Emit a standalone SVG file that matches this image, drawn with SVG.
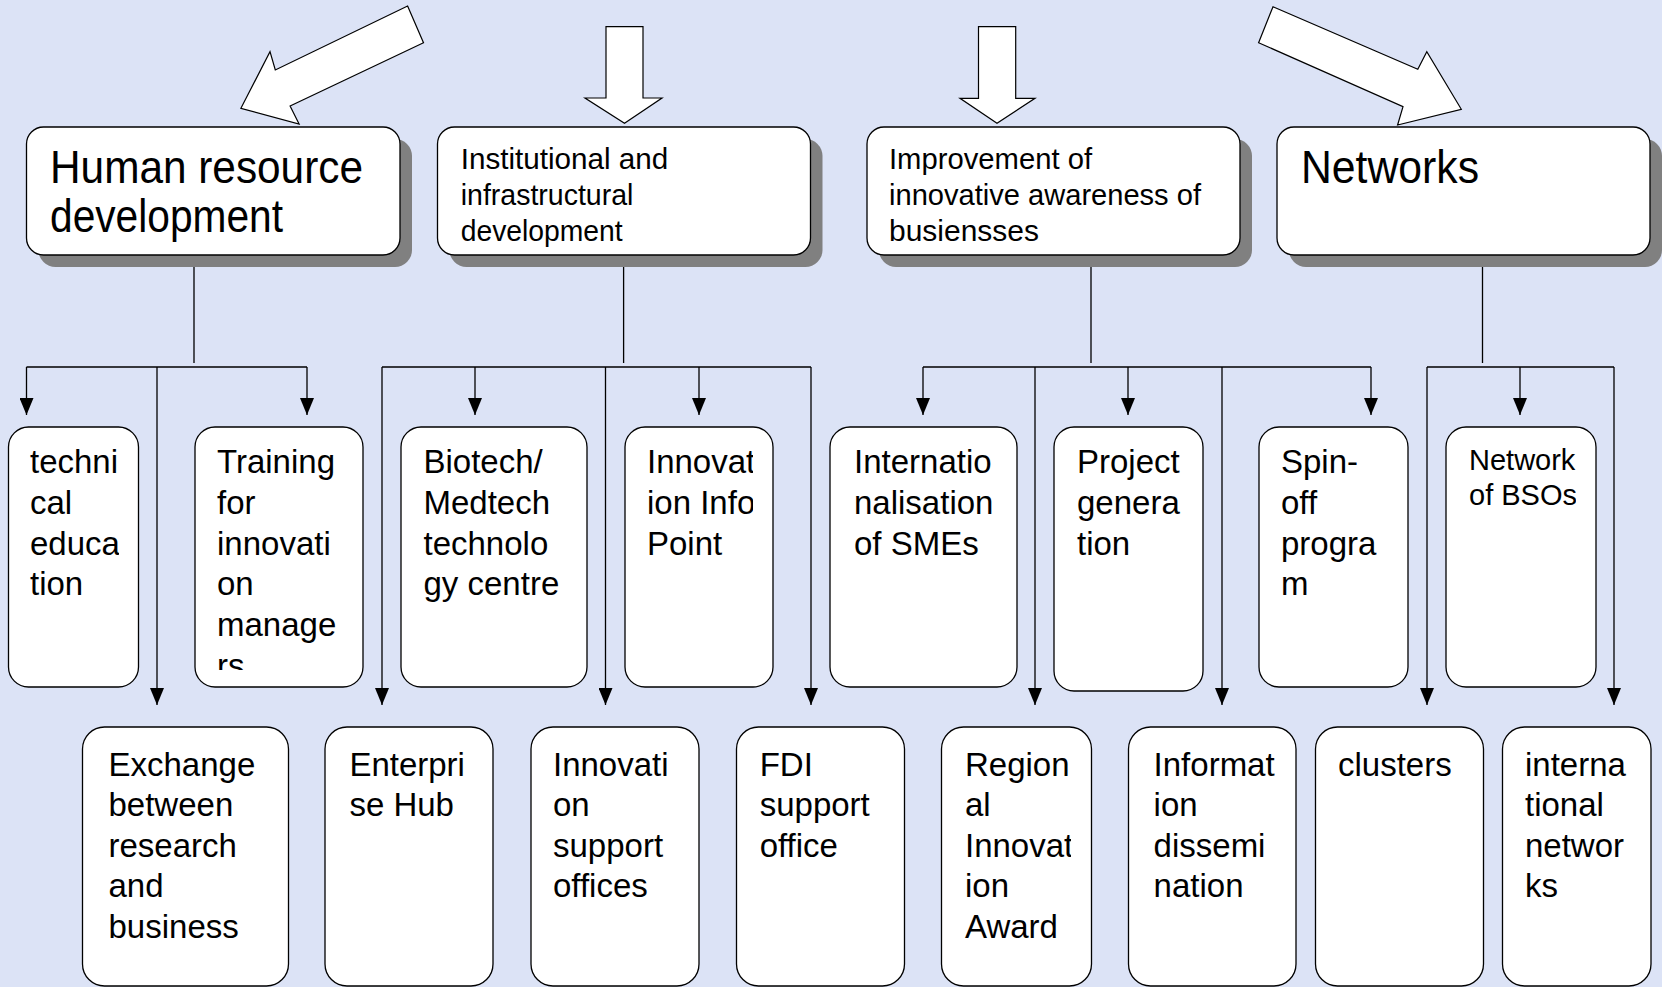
<svg xmlns="http://www.w3.org/2000/svg" width="1662" height="987" viewBox="0 0 1662 987">
<defs>
<style>
.bg{fill:#dce3f6}
.box{fill:#fff;stroke:#000;stroke-width:1.3}
.sh{fill:#808080}
.big{fill:#fff;stroke:#000;stroke-width:1.2}
.ln{fill:none;stroke:#000;stroke-width:1.3}
.arr{fill:none;stroke:#000;stroke-width:1.3;marker-end:url(#ah)}
text{font-family:"Liberation Sans",Arial,sans-serif;fill:#000}
.t46{font-size:46px}
.t30{font-size:30px}
.t33{font-size:33px}
.t29{font-size:29px}
</style>
<marker id="ah" markerUnits="userSpaceOnUse" markerWidth="18" markerHeight="14" refX="17" refY="7" orient="auto" viewBox="0 0 18 14"><path d="M0,0 L17,7 L0,14 z" fill="#000"/></marker>
<clipPath id="c1"><rect x="8" y="427" width="111" height="243"/></clipPath>
<clipPath id="c2"><rect x="195" y="427" width="148" height="243"/></clipPath>
<clipPath id="c3"><rect x="401" y="427" width="166" height="243"/></clipPath>
<clipPath id="c4"><rect x="625" y="427" width="128" height="243"/></clipPath>
<clipPath id="c5"><rect x="830" y="427" width="167" height="243"/></clipPath>
<clipPath id="c6"><rect x="1054" y="427" width="129" height="247"/></clipPath>
<clipPath id="c7"><rect x="1259" y="427" width="129" height="243"/></clipPath>
<clipPath id="c8"><rect x="1446" y="427" width="130" height="243"/></clipPath>
<clipPath id="d1"><rect x="82" y="727" width="186" height="245"/></clipPath>
<clipPath id="d2"><rect x="325" y="727" width="148" height="245"/></clipPath>
<clipPath id="d3"><rect x="531" y="727" width="148" height="245"/></clipPath>
<clipPath id="d4"><rect x="736" y="727" width="148" height="245"/></clipPath>
<clipPath id="d5"><rect x="941" y="727" width="130" height="245"/></clipPath>
<clipPath id="d6"><rect x="1128" y="727" width="148" height="245"/></clipPath>
<clipPath id="d7"><rect x="1315" y="727" width="148" height="245"/></clipPath>
<clipPath id="d8"><rect x="1502" y="727" width="129" height="245"/></clipPath>
</defs>
<rect class="bg" x="0" y="0" width="1662" height="987"/>

<g id="big-arrows">
<polygon class="big" points="407.6,6 423.5,42.7 290.1,106 299.1,124 240.9,108.3 270,51.7 275.3,70"/>
<polygon class="big" points="606,26.7 643,26.7 643,98 662,98 624.5,123.3 585,98 606,98"/>
<polygon class="big" points="978.5,26.7 1015.7,26.7 1015.7,98.3 1035,98.3 997,123.3 960,98.3 978.5,98.3"/>
<polygon class="big" points="1273,6.7 1417.8,69.3 1426.8,51.7 1461.3,109.3 1397.6,125 1403,106.7 1258.6,42.7"/>
</g>

<g id="connectors">
<path class="ln" d="M194,267V363 M26.5,367H307 M623.6,267V363 M382,367H811 M1091,267V363 M923,367H1371 M1482.5,267V363 M1427,367H1614"/>
<path class="arr" d="M26.5,367V415"/>
<path class="arr" d="M157,367V705"/>
<path class="arr" d="M307,367V415"/>
<path class="arr" d="M382,367V705"/>
<path class="arr" d="M475,367V415"/>
<path class="arr" d="M605.5,367V705"/>
<path class="arr" d="M699,367V415"/>
<path class="arr" d="M811,367V705"/>
<path class="arr" d="M923,367V415"/>
<path class="arr" d="M1035,367V705"/>
<path class="arr" d="M1128,367V415"/>
<path class="arr" d="M1222,367V705"/>
<path class="arr" d="M1371,367V415"/>
<path class="arr" d="M1427,367V705"/>
<path class="arr" d="M1520,367V415"/>
<path class="arr" d="M1614,367V705"/>
</g>

<g id="n-hr">
<rect class="sh" x="38.5" y="139" width="373.5" height="128" rx="17"/>
<rect class="box" x="26.5" y="127" width="373.5" height="128" rx="17"/>
<text class="t46"><tspan x="50" y="183" textLength="313" lengthAdjust="spacingAndGlyphs">Human resource</tspan><tspan x="50" y="232" textLength="233" lengthAdjust="spacingAndGlyphs">development</tspan></text>
</g>
<g id="n-inst">
<rect class="sh" x="449.5" y="139" width="373" height="128" rx="17"/>
<rect class="box" x="437.5" y="127" width="373" height="128" rx="17"/>
<text class="t30"><tspan x="460.7" y="169" textLength="207.6" lengthAdjust="spacingAndGlyphs">Institutional and</tspan><tspan x="460.7" y="205" textLength="172.7" lengthAdjust="spacingAndGlyphs">infrastructural</tspan><tspan x="460.7" y="241" textLength="162" lengthAdjust="spacingAndGlyphs">development</tspan></text>
</g>
<g id="n-impr">
<rect class="sh" x="879" y="139" width="373" height="128" rx="17"/>
<rect class="box" x="867" y="127" width="373" height="128" rx="17"/>
<text class="t30"><tspan x="889" y="169" textLength="203" lengthAdjust="spacingAndGlyphs">Improvement of</tspan><tspan x="889" y="205" textLength="312" lengthAdjust="spacingAndGlyphs">innovative awareness of</tspan><tspan x="889" y="241" textLength="150" lengthAdjust="spacingAndGlyphs">busiensses</tspan></text>
</g>
<g id="n-net">
<rect class="sh" x="1289" y="139" width="373" height="128" rx="17"/>
<rect class="box" x="1277" y="127" width="373" height="128" rx="17"/>
<text class="t46"><tspan x="1301" y="183" textLength="178" lengthAdjust="spacingAndGlyphs">Networks</tspan></text>
</g>

<g id="n-technical">
<rect class="box" x="8.5" y="427" width="130" height="260" rx="20"/>
<text class="t33" clip-path="url(#c1)"><tspan x="30" y="473.3">techni</tspan><tspan x="30" y="514">cal</tspan><tspan x="30" y="554.7">educa</tspan><tspan x="30" y="595.4">tion</tspan></text>
</g>
<g id="n-training">
<rect class="box" x="195" y="427" width="168" height="260" rx="20"/>
<text class="t33" clip-path="url(#c2)"><tspan x="217" y="473.3">Training</tspan><tspan x="217" y="514">for</tspan><tspan x="217" y="554.7">innovati</tspan><tspan x="217" y="595.4">on</tspan><tspan x="217" y="636.1">manage</tspan><tspan x="217" y="676.8">rs</tspan></text>
</g>
<g id="n-biotech">
<rect class="box" x="401" y="427" width="186" height="260" rx="20"/>
<text class="t33" clip-path="url(#c3)"><tspan x="423.5" y="473.3">Biotech/</tspan><tspan x="423.5" y="514">Medtech</tspan><tspan x="423.5" y="554.7">technolo</tspan><tspan x="423.5" y="595.4">gy centre</tspan></text>
</g>
<g id="n-infopoint">
<rect class="box" x="625" y="427" width="148" height="260" rx="20"/>
<text class="t33" clip-path="url(#c4)"><tspan x="647" y="473.3">Innovat</tspan><tspan x="647" y="514">ion Info</tspan><tspan x="647" y="554.7">Point</tspan></text>
</g>
<g id="n-intern">
<rect class="box" x="830" y="427" width="187" height="260" rx="20"/>
<text class="t33" clip-path="url(#c5)"><tspan x="854" y="473.3">Internatio</tspan><tspan x="854" y="514">nalisation</tspan><tspan x="854" y="554.7">of SMEs</tspan></text>
</g>
<g id="n-project">
<rect class="box" x="1054" y="427" width="149" height="264" rx="20"/>
<text class="t33" clip-path="url(#c6)"><tspan x="1077" y="473.3">Project</tspan><tspan x="1077" y="514">genera</tspan><tspan x="1077" y="554.7">tion</tspan></text>
</g>
<g id="n-spinoff">
<rect class="box" x="1259" y="427" width="149" height="260" rx="20"/>
<text class="t33" clip-path="url(#c7)"><tspan x="1281" y="473.3">Spin-</tspan><tspan x="1281" y="514">off</tspan><tspan x="1281" y="554.7">progra</tspan><tspan x="1281" y="595.4">m</tspan></text>
</g>
<g id="n-bsos">
<rect class="box" x="1446" y="427" width="150" height="260" rx="20"/>
<text class="t29" clip-path="url(#c8)"><tspan x="1469" y="470">Network</tspan><tspan x="1469" y="505">of BSOs</tspan></text>
</g>

<g id="n-exchange">
<rect class="box" x="82.5" y="727" width="206" height="259" rx="22"/>
<text class="t33" clip-path="url(#d1)"><tspan x="108.5" y="775.5">Exchange</tspan><tspan x="108.5" y="816">between</tspan><tspan x="108.5" y="856.5">research</tspan><tspan x="108.5" y="897">and</tspan><tspan x="108.5" y="937.5">business</tspan></text>
</g>
<g id="n-hub">
<rect class="box" x="325" y="727" width="168" height="259" rx="22"/>
<text class="t33" clip-path="url(#d2)"><tspan x="349.4" y="775.5">Enterpri</tspan><tspan x="349.4" y="816">se Hub</tspan></text>
</g>
<g id="n-support">
<rect class="box" x="531" y="727" width="168" height="259" rx="22"/>
<text class="t33" clip-path="url(#d3)"><tspan x="553" y="775.5">Innovati</tspan><tspan x="553" y="816">on</tspan><tspan x="553" y="856.5">support</tspan><tspan x="553" y="897">offices</tspan></text>
</g>
<g id="n-fdi">
<rect class="box" x="736.5" y="727" width="168" height="259" rx="22"/>
<text class="t33" clip-path="url(#d4)"><tspan x="759.7" y="775.5">FDI</tspan><tspan x="759.7" y="816">support</tspan><tspan x="759.7" y="856.5">office</tspan></text>
</g>
<g id="n-award">
<rect class="box" x="941.5" y="727" width="150" height="259" rx="22"/>
<text class="t33" clip-path="url(#d5)"><tspan x="965" y="775.5">Region</tspan><tspan x="965" y="816">al</tspan><tspan x="965" y="856.5">Innovat</tspan><tspan x="965" y="897">ion</tspan><tspan x="965" y="937.5">Award</tspan></text>
</g>
<g id="n-dissem">
<rect class="box" x="1128.5" y="727" width="167.5" height="259" rx="22"/>
<text class="t33" clip-path="url(#d6)"><tspan x="1153.6" y="775.5">Informat</tspan><tspan x="1153.6" y="816">ion</tspan><tspan x="1153.6" y="856.5">dissemi</tspan><tspan x="1153.6" y="897">nation</tspan></text>
</g>
<g id="n-clusters">
<rect class="box" x="1315.5" y="727" width="168" height="259" rx="22"/>
<text class="t33" clip-path="url(#d7)"><tspan x="1338" y="775.5">clusters</tspan></text>
</g>
<g id="n-intnet">
<rect class="box" x="1502.5" y="727" width="148.5" height="259" rx="22"/>
<text class="t33" clip-path="url(#d8)"><tspan x="1525" y="775.5">interna</tspan><tspan x="1525" y="816">tional</tspan><tspan x="1525" y="856.5">networ</tspan><tspan x="1525" y="897">ks</tspan></text>
</g>
</svg>
